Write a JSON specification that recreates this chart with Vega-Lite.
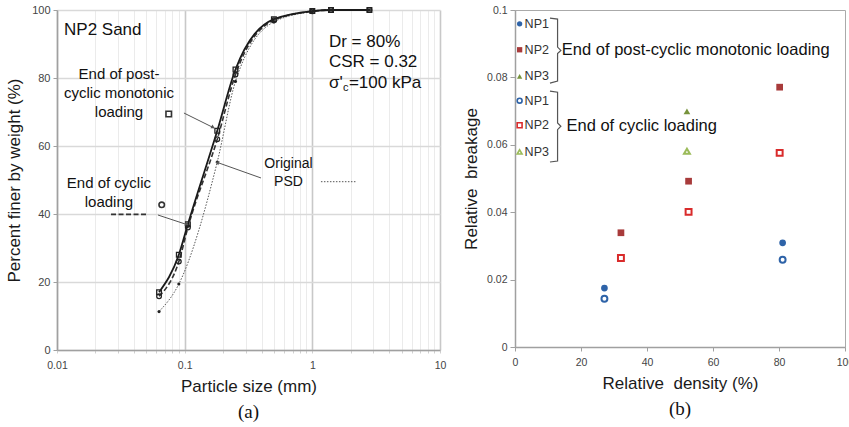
{
  "$schema": "https://vega.github.io/schema/vega-lite/v6.json",
  "padding": {"left": 5, "top": 4, "right": 0, "bottom": 0},
  "spacing": 16,
  "config": {
    "font": "Liberation Sans",
    "axis": {"labelFont": "Liberation Sans", "labelFontSize": 10.5, "labelColor": "#444444", "titleFont": "Liberation Sans", "titleFontSize": 17, "titleFontWeight": "normal", "titleColor": "#1a1a1a", "domainColor": "#a0a0a0", "tickColor": "#a0a0a0", "domainWidth": 1.5},
    "view": {"stroke": "#aaaaaa"},
    "title": {"font": "Liberation Serif", "fontSize": 19, "fontWeight": "normal", "color": "#111111"}
  },
  "datasets": {
    "psd": [
      {"s": "post", "d": 0.063, "p": 17}, {"s": "post", "d": 0.09, "p": 28}, {"s": "post", "d": 0.106, "p": 37}, {"s": "post", "d": 0.18, "p": 64.5}, {"s": "post", "d": 0.25, "p": 82.5}, {"s": "post", "d": 0.5, "p": 97.3}, {"s": "post", "d": 1, "p": 99.7}, {"s": "post", "d": 1.4, "p": 100}, {"s": "post", "d": 2.8, "p": 100},
      {"s": "cyc", "d": 0.063, "p": 15.8}, {"s": "cyc", "d": 0.09, "p": 26}, {"s": "cyc", "d": 0.106, "p": 36}, {"s": "cyc", "d": 0.18, "p": 62}, {"s": "cyc", "d": 0.25, "p": 81}, {"s": "cyc", "d": 0.5, "p": 97}, {"s": "cyc", "d": 1, "p": 99.6}, {"s": "cyc", "d": 1.4, "p": 100}, {"s": "cyc", "d": 2.8, "p": 100},
      {"s": "orig", "d": 0.063, "p": 11.3}, {"s": "orig", "d": 0.09, "p": 19.4}, {"s": "orig", "d": 0.18, "p": 55.3}, {"s": "orig", "d": 0.25, "p": 79}, {"s": "orig", "d": 0.5, "p": 96.5}, {"s": "orig", "d": 1, "p": 99.5}, {"s": "orig", "d": 1.4, "p": 100}, {"s": "orig", "d": 2.8, "p": 100}
    ],
    "bpts": [
      {"series": "NP1", "g": "NP1-post", "rd": 27.1, "rb": 0.0175}, {"series": "NP1", "g": "NP1-post", "rd": 81.1, "rb": 0.0309},
      {"series": "NP1", "g": "NP1-cyc", "rd": 27.1, "rb": 0.0143}, {"series": "NP1", "g": "NP1-cyc", "rd": 81.1, "rb": 0.0259},
      {"series": "NP2", "g": "NP2-post", "rd": 32.1, "rb": 0.0339}, {"series": "NP2", "g": "NP2-post", "rd": 52.6, "rb": 0.0492}, {"series": "NP2", "g": "NP2-post", "rd": 80.2, "rb": 0.0771},
      {"series": "NP2", "g": "NP2-cyc", "rd": 32.1, "rb": 0.0264}, {"series": "NP2", "g": "NP2-cyc", "rd": 52.6, "rb": 0.0401}, {"series": "NP2", "g": "NP2-cyc", "rd": 80.2, "rb": 0.0576},
      {"series": "NP3", "g": "NP3-post", "rd": 52.1, "rb": 0.0699},
      {"series": "NP3", "g": "NP3-cyc", "rd": 52.1, "rb": 0.0581}
    ],
    "bkey": [
      {"series": "NP1", "g": "NP1-post", "rd": 1.4, "rb": 0.0959}, {"series": "NP2", "g": "NP2-post", "rd": 1.4, "rb": 0.0882}, {"series": "NP3", "g": "NP3-post", "rd": 1.4, "rb": 0.0803},
      {"series": "NP1", "g": "NP1-cyc", "rd": 1.4, "rb": 0.0731}, {"series": "NP2", "g": "NP2-cyc", "rd": 1.4, "rb": 0.0658}, {"series": "NP3", "g": "NP3-cyc", "rd": 1.4, "rb": 0.0579}
    ],
    "braces": [
      {"b": 1, "o": 1, "rd": 10.6, "rb": 0.0976}, {"b": 1, "o": 2, "rd": 12.9, "rb": 0.0973}, {"b": 1, "o": 3, "rd": 12.9, "rb": 0.0890}, {"b": 1, "o": 4, "rd": 13.9, "rb": 0.0880}, {"b": 1, "o": 5, "rd": 12.9, "rb": 0.0871}, {"b": 1, "o": 6, "rd": 12.9, "rb": 0.0789}, {"b": 1, "o": 7, "rd": 10.6, "rb": 0.0783},
      {"b": 2, "o": 1, "rd": 10.6, "rb": 0.0759}, {"b": 2, "o": 2, "rd": 12.9, "rb": 0.0756}, {"b": 2, "o": 3, "rd": 12.9, "rb": 0.0665}, {"b": 2, "o": 4, "rd": 13.9, "rb": 0.0655}, {"b": 2, "o": 5, "rd": 12.9, "rb": 0.0645}, {"b": 2, "o": 6, "rd": 12.9, "rb": 0.0552}, {"b": 2, "o": 7, "rd": 10.6, "rb": 0.0549}
    ]
  },
  "hconcat": [
    {
      "width": 383,
      "height": 340,
      "title": {"text": "(a)", "orient": "bottom", "offset": 8},
      "view": {"stroke": null},
      "encoding": {
        "x": {"field": "d", "type": "quantitative", "scale": {"type": "log", "domain": [0.01, 10]},
          "axis": {"title": "Particle size (mm)", "titlePadding": 8,
            "values": [0.01, 0.02, 0.03, 0.04, 0.05, 0.06, 0.07, 0.08, 0.09, 0.1, 0.2, 0.3, 0.4, 0.5, 0.6, 0.7, 0.8, 0.9, 1, 2, 3, 4, 5, 6, 7, 8, 9, 10],
            "labelExpr": "datum.value == 0.01 ? '0.01' : datum.value == 0.1 ? '0.1' : datum.value == 1 ? '1' : datum.value == 10 ? '10' : ''",
            "labelOverlap": false, "labelFlush": false, "labelPadding": 7, "tickSize": 3,
            "tickColor": "#d0d0d0",
            "gridColor": {"condition": {"test": "datum.value == 0.01 || datum.value == 0.1 || datum.value == 1 || datum.value == 10", "value": "#c8c8c8"}, "value": "#ebebeb"},
            "gridWidth": {"condition": {"test": "datum.value == 0.01 || datum.value == 0.1 || datum.value == 1 || datum.value == 10", "value": 1.6}, "value": 1}}},
        "y": {"field": "p", "type": "quantitative", "scale": {"domain": [0, 100]},
          "axis": {"title": "Percent finer by weight (%)", "titlePadding": 8, "values": [0, 20, 40, 60, 80, 100], "gridColor": "#d9d9d9", "gridWidth": 1.3, "tickSize": 4, "labelPadding": 3, "labelFontSize": 11}}
      },
      "layer": [
        {"data": {"name": "psd"}, "transform": [{"filter": "datum.s == 'orig'"}], "mark": {"type": "line", "interpolate": "monotone", "strokeDash": [1.5, 1.5], "color": "#555555", "strokeWidth": 1}},
        {"data": {"name": "psd"}, "transform": [{"filter": "datum.s == 'cyc'"}], "mark": {"type": "line", "interpolate": "monotone", "strokeDash": [5, 2.5], "color": "#333333", "strokeWidth": 1.6}},
        {"data": {"name": "psd"}, "transform": [{"filter": "datum.s == 'post'"}], "mark": {"type": "line", "interpolate": "monotone", "color": "#1a1a1a", "strokeWidth": 1.8}},
        {"data": {"name": "psd"}, "transform": [{"filter": "datum.s == 'orig'"}], "mark": {"type": "point", "shape": "circle", "filled": true, "size": 10, "color": "#222222", "opacity": 1}},
        {"data": {"name": "psd"}, "transform": [{"filter": "datum.s == 'cyc'"}], "mark": {"type": "point", "shape": "circle", "filled": false, "size": 22, "strokeWidth": 1.3, "color": "#222222", "opacity": 1}},
        {"data": {"name": "psd"}, "transform": [{"filter": "datum.s == 'post'"}], "mark": {"type": "point", "shape": "square", "filled": false, "size": 22, "strokeWidth": 1.3, "color": "#222222", "opacity": 1}},
        {"data": {"values": [{"d": 0.0265, "d2": 0.0516, "p": 39.9}]}, "mark": {"type": "rule", "strokeDash": [5, 2.5], "color": "#333333", "strokeWidth": 1.6}, "encoding": {"x2": {"field": "d2"}}},
        {"data": {"values": [{"d": 1.168, "d2": 2.195, "p": 49.5}]}, "mark": {"type": "rule", "strokeDash": [1.5, 1.5], "color": "#555555", "strokeWidth": 1}, "encoding": {"x2": {"field": "d2"}}},
        {"data": {"values": [{"d": 0.075, "p": 69.4}]}, "mark": {"type": "point", "shape": "square", "filled": false, "size": 30, "strokeWidth": 1.6, "color": "#333333", "opacity": 1}},
        {"data": {"values": [{"d": 0.0661, "p": 42.7}]}, "mark": {"type": "point", "shape": "circle", "filled": false, "size": 30, "strokeWidth": 1.6, "color": "#333333", "opacity": 1}},
        {"data": {"values": [{"d": 0.0987, "p": 69.7, "d2": 0.170, "p2": 65.3}, {"d": 0.0618, "p": 39.7, "d2": 0.106, "p2": 36.8}, {"d": 0.396, "p": 50.6, "d2": 0.176, "p2": 55.3}]}, "mark": {"type": "rule", "color": "#555555", "strokeWidth": 1}, "encoding": {"x2": {"field": "d2"}, "y2": {"field": "p2"}}},
        {"data": {"values": [{"d": 0.167, "p": 65.5}]}, "mark": {"type": "point", "shape": "triangle-right", "angle": 27, "filled": true, "size": 18, "color": "#555555", "opacity": 1}},
        {"data": {"values": [{"d": 0.104, "p": 37}]}, "mark": {"type": "point", "shape": "triangle-right", "angle": 18, "filled": true, "size": 18, "color": "#555555", "opacity": 1}},
        {"data": {"values": [{"d": 0.18, "p": 55.1}]}, "mark": {"type": "point", "shape": "triangle-left", "angle": 20, "filled": true, "size": 18, "color": "#555555", "opacity": 1}},
        {"data": {"values": [{"d": 0.01135, "p": 94.1, "t": "NP2 Sand"}, {"d": 1.349, "p": 90.6, "t": "Dr = 80%"}, {"d": 1.349, "p": 84.7, "t": "CSR = 0.32"}, {"d": 1.349, "p": 78.5, "t": "σ'"}, {"d": 1.935, "p": 78.5, "t": "=100  kPa"}]},
          "mark": {"type": "text", "align": "left", "baseline": "middle", "fontSize": 17, "color": "#111111"}, "encoding": {"text": {"field": "t"}}},
        {"data": {"values": [{"d": 1.736, "p": 77.1, "t": "c"}]}, "mark": {"type": "text", "align": "left", "baseline": "middle", "fontSize": 11, "color": "#111111"}, "encoding": {"text": {"field": "t"}}},
        {"data": {"values": [{"d": 0.0306, "p": 81.2, "t": "End of post-\ncyclic monotonic\nloading"}, {"d": 0.0255, "p": 49.1, "t": "End of cyclic\nloading"}]},
          "mark": {"type": "text", "align": "center", "baseline": "middle", "fontSize": 15, "lineHeight": 19, "lineBreak": "\n", "color": "#111111"}, "encoding": {"text": {"field": "t"}}},
        {"data": {"values": [{"d": 0.65, "p": 54.7, "t": "Original\nPSD"}]},
          "mark": {"type": "text", "align": "center", "baseline": "middle", "fontSize": 14, "lineHeight": 18, "lineBreak": "\n", "color": "#111111"}, "encoding": {"text": {"field": "t"}}}
      ]
    },
    {
      "width": 330,
      "height": 337,
      "title": {"text": "(b)", "orient": "bottom", "offset": 8},
      "encoding": {
        "x": {"field": "rd", "type": "quantitative", "scale": {"domain": [0, 100]},
          "axis": {"title": "Relative\u00a0 density (%)", "titlePadding": 8, "values": [0, 20, 40, 60, 80, 100], "grid": false, "tickSize": 4, "labelPadding": 6, "labelFlush": false}},
        "y": {"field": "rb", "type": "quantitative", "scale": {"domain": [0, 0.1]},
          "axis": {"title": "Relative\u00a0 breakage", "titlePadding": 6, "values": [0, 0.02, 0.04, 0.06, 0.08, 0.1], "format": "~g", "grid": false, "tickSize": 5, "labelPadding": 3, "labelFlush": false}}
      },
      "layer": [
        {"data": {"name": "braces"}, "mark": {"type": "line", "color": "#555555", "strokeWidth": 1.2}, "encoding": {"detail": {"field": "b"}, "order": {"field": "o"}}},
        {"data": {"name": "bpts"}, "transform": [{"filter": "indexof(datum.g, 'post') >= 0"}], "mark": {"type": "point", "filled": true, "size": 45, "opacity": 1},
          "encoding": {
            "shape": {"field": "series", "scale": {"domain": ["NP1", "NP2", "NP3"], "range": ["circle", "square", "triangle-up"]}, "legend": null},
            "color": {"field": "g", "scale": {"domain": ["NP1-post", "NP2-post", "NP3-post", "NP1-cyc", "NP2-cyc", "NP3-cyc"], "range": ["#2e63a8", "#a83b3b", "#77933c", "#2e63a8", "#d92b2b", "#9bbb59"]}, "legend": null}}},
        {"data": {"name": "bpts"}, "transform": [{"filter": "indexof(datum.g, 'cyc') >= 0"}], "mark": {"type": "point", "filled": false, "size": 35, "strokeWidth": 2, "opacity": 1},
          "encoding": {
            "shape": {"field": "series", "scale": {"domain": ["NP1", "NP2", "NP3"], "range": ["circle", "square", "triangle-up"]}, "legend": null},
            "color": {"field": "g", "scale": {"domain": ["NP1-post", "NP2-post", "NP3-post", "NP1-cyc", "NP2-cyc", "NP3-cyc"], "range": ["#2e63a8", "#a83b3b", "#77933c", "#2e63a8", "#d92b2b", "#9bbb59"]}, "legend": null}}},
        {"data": {"name": "bkey"}, "transform": [{"filter": "indexof(datum.g, 'post') >= 0"}], "mark": {"type": "point", "filled": true, "size": 28, "opacity": 1},
          "encoding": {
            "shape": {"field": "series", "scale": {"domain": ["NP1", "NP2", "NP3"], "range": ["circle", "square", "triangle-up"]}, "legend": null},
            "color": {"field": "g", "scale": {"domain": ["NP1-post", "NP2-post", "NP3-post", "NP1-cyc", "NP2-cyc", "NP3-cyc"], "range": ["#2e63a8", "#a83b3b", "#77933c", "#2e63a8", "#d92b2b", "#9bbb59"]}, "legend": null}}},
        {"data": {"name": "bkey"}, "transform": [{"filter": "indexof(datum.g, 'cyc') >= 0"}], "mark": {"type": "point", "filled": false, "size": 24, "strokeWidth": 1.6, "opacity": 1},
          "encoding": {
            "shape": {"field": "series", "scale": {"domain": ["NP1", "NP2", "NP3"], "range": ["circle", "square", "triangle-up"]}, "legend": null},
            "color": {"field": "g", "scale": {"domain": ["NP1-post", "NP2-post", "NP3-post", "NP1-cyc", "NP2-cyc", "NP3-cyc"], "range": ["#2e63a8", "#a83b3b", "#77933c", "#2e63a8", "#d92b2b", "#9bbb59"]}, "legend": null}}},
        {"data": {"name": "bkey"}, "mark": {"type": "text", "align": "left", "baseline": "middle", "dx": 5, "fontSize": 12.5, "color": "#333333"}, "encoding": {"text": {"field": "series"}}},
        {"data": {"values": [{"rd": 14.2, "rb": 0.0881, "t": "End of post-cyclic monotonic loading"}, {"rd": 15.6, "rb": 0.0656, "t": "End of cyclic loading"}]},
          "mark": {"type": "text", "align": "left", "baseline": "middle", "fontSize": 16.5, "color": "#111111"}, "encoding": {"text": {"field": "t"}}}
      ]
    }
  ]
}
